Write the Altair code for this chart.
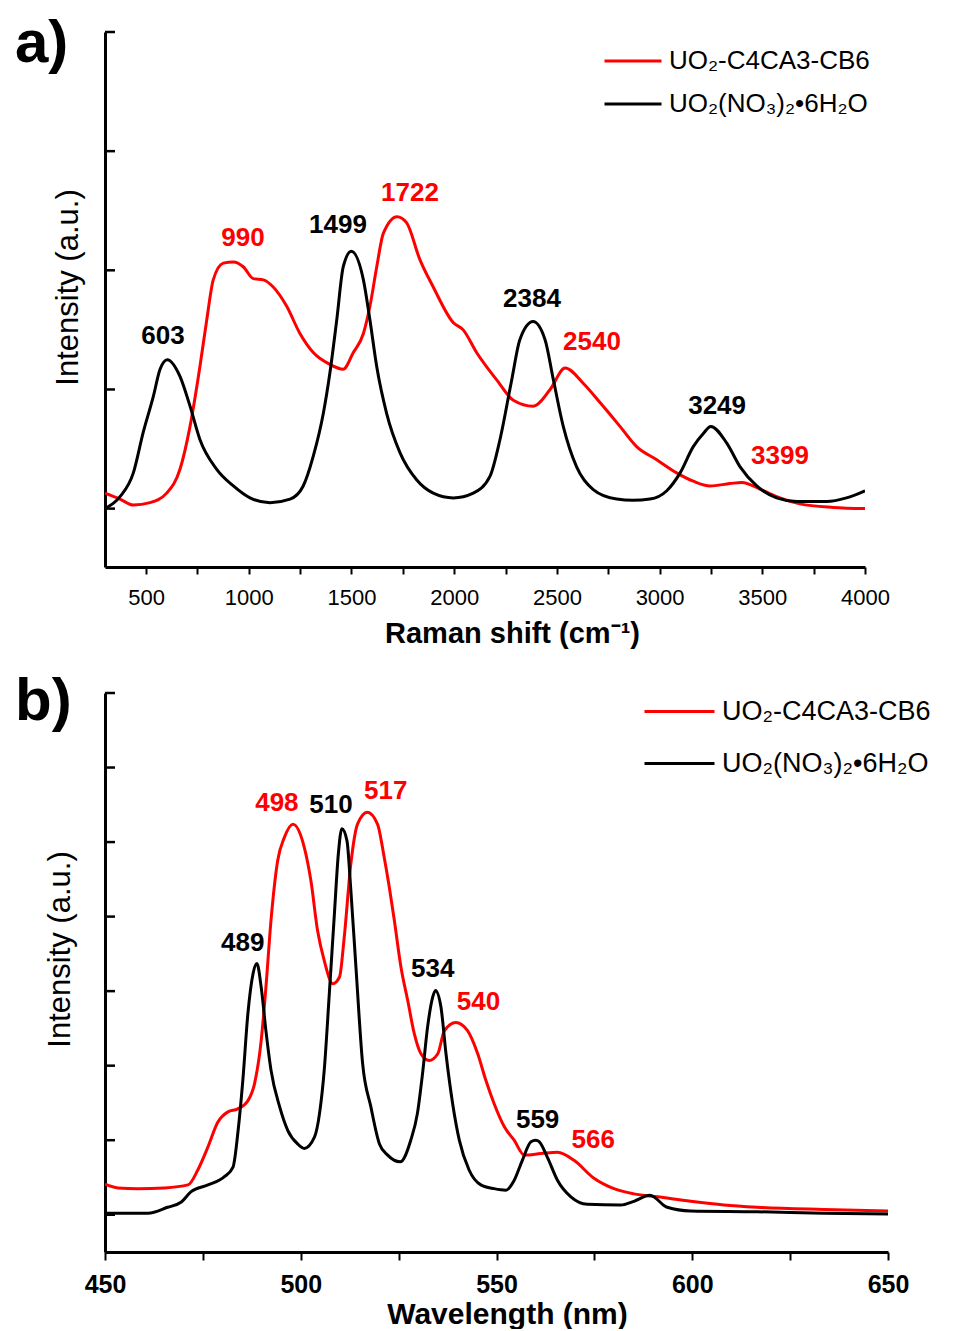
import altair as alt
import pandas as pd

FONT = "Liberation Sans"
S_RED = "UO₂-C4CA3-CB6"
S_BLK = "UO₂(NO₃)₂•6H₂O"

# ---------------- panel a: Raman ----------------
ra_black_x = [300, 373, 438, 486, 535, 568, 603, 665, 714, 762, 844, 925, 1006, 1103,
              1201, 1265, 1314, 1363, 1395, 1428, 1460, 1499, 1558, 1590, 1623, 1671, 1736, 1818,
              1898, 1996, 2093, 2174, 2223, 2280, 2320, 2384, 2442, 2483, 2531, 2596, 2677, 2791,
              2870, 2953, 3035, 3100, 3164, 3213, 3249, 3327, 3392, 3473, 3570, 3667, 3813, 3910, 4000]
ra_black_y = [0.00, 0.10, 0.30, 0.64, 0.94, 1.17, 1.25, 1.11, 0.86, 0.58, 0.33, 0.19, 0.09, 0.05,
              0.08, 0.19, 0.44, 0.80, 1.14, 1.58, 2.03, 2.16, 1.92, 1.58, 1.19, 0.80, 0.47, 0.24,
              0.13, 0.09, 0.13, 0.27, 0.58, 1.08, 1.42, 1.57, 1.42, 1.08, 0.69, 0.35, 0.16, 0.08,
              0.07, 0.08, 0.15, 0.30, 0.52, 0.63, 0.69, 0.55, 0.35, 0.19, 0.09, 0.06, 0.06, 0.09, 0.15]
ra_red_x = [300, 373, 438, 519, 600, 665, 714, 762, 795, 827, 876, 925, 973, 1022,
            1071, 1119, 1184, 1249, 1314, 1395, 1460, 1509, 1558, 1590, 1623, 1655, 1722, 1768,
            1833, 1898, 1996, 2044, 2109, 2207, 2288, 2385, 2467, 2540, 2629, 2710, 2807, 2888,
            2986, 3083, 3164, 3245, 3342, 3399, 3505, 3586, 3683, 3846, 4000]
ra_red_y = [0.13, 0.08, 0.03, 0.05, 0.13, 0.33, 0.69, 1.19, 1.58, 1.92, 2.06, 2.07, 2.03, 1.93,
            1.92, 1.86, 1.70, 1.47, 1.31, 1.21, 1.17, 1.31, 1.47, 1.70, 2.03, 2.31, 2.45, 2.40,
            2.09, 1.86, 1.56, 1.50, 1.31, 1.08, 0.91, 0.86, 1.00, 1.18, 1.05, 0.89, 0.69, 0.52,
            0.41, 0.30, 0.23, 0.19, 0.21, 0.22, 0.15, 0.09, 0.04, 0.01, 0.00]
ra_lab_text = ["603", "990", "1499", "1722", "2384", "2540", "3249", "3399"]
ra_lab_x = [582, 972, 1434, 1785, 2379, 2671, 3280, 3586]
ra_lab_y = [1.45, 2.27, 2.38, 2.65, 1.76, 1.40, 0.86, 0.44]
ra_lab_series = [S_BLK, S_RED, S_BLK, S_RED, S_BLK, S_RED, S_BLK, S_RED]
ra_xticks = list(range(500, 4001, 250))
ra_yticks = [0, 1, 2, 3, 4]

# ---------------- panel b: luminescence ----------------
pb_black_x = [450, 461, 466, 469.5, 472, 476.3, 480.5, 482.7, 484, 485.2, 486.5, 487.8, 488.8, 489.9,
              491.1, 492.4, 494.6, 496.7, 499.2, 500.9, 503.5, 504.8, 506.0, 507.3, 508.6, 509.6, 510.5, 511.8,
              512.8, 514.1, 515.8, 517.9, 520.1, 522.2, 525.4, 528.1, 529.8, 531.1, 532.4, 533.7, 534.4, 535.8,
              537.1, 538.8, 540.5, 543.0, 546.0, 549.4, 552.4, 554.5, 556.6, 558.8, 560.0, 560.9, 563.0, 565.6,
              569.0, 573.2, 581.7, 585.1, 589.2, 593.6, 599.6, 616.6, 633.6, 650]
pb_black_y = [0.02, 0.02, 0.10, 0.17, 0.31, 0.40, 0.51, 0.64, 1.13, 1.80, 2.70, 3.23, 3.37, 3.05,
              2.47, 1.94, 1.45, 1.13, 0.95, 0.89, 1.04, 1.36, 1.94, 2.97, 4.04, 4.84, 5.18, 5.02,
              4.35, 3.32, 2.03, 1.45, 0.95, 0.80, 0.71, 1.00, 1.36, 1.89, 2.52, 2.92, 3.01, 2.79,
              2.16, 1.49, 1.00, 0.60, 0.40, 0.35, 0.33, 0.46, 0.73, 0.98, 1.00, 0.98, 0.77, 0.46,
              0.24, 0.14, 0.13, 0.18, 0.26, 0.10, 0.05, 0.04, 0.02, 0.01]
pb_red_x = [450, 453.3, 458.4, 465.2, 471.2, 473.7, 476.3, 478.8, 481.4, 483.9, 486.5, 488.2, 489.9, 491.1,
            492.4, 494.1, 495.8, 498, 500.9, 502.6, 504.3, 506.0, 508.2, 509.9, 511.1, 512.8, 514.5, 517,
            519.6, 521.3, 522.6, 523.9, 525.6, 527.3, 529.0, 530.7, 532.8, 535.0, 536.7, 539.6, 542.6, 545.2,
            547.3, 549.4, 552.0, 554.5, 557.1, 561.3, 565.6, 569.8, 574.9, 580.0, 585.1, 591.1, 599.6, 608.1,
            616.6, 633.6, 650]
pb_red_y = [0.41, 0.36, 0.35, 0.36, 0.40, 0.60, 0.91, 1.24, 1.38, 1.42, 1.53, 1.76, 2.34, 3.05,
            3.95, 4.75, 5.06, 5.24, 4.93, 4.48, 3.81, 3.41, 3.10, 3.19, 3.72, 4.71, 5.24, 5.40,
            5.24, 4.80, 4.40, 3.95, 3.32, 2.88, 2.43, 2.16, 2.07, 2.16, 2.47, 2.58, 2.47, 2.16,
            1.80, 1.49, 1.18, 1.00, 0.80, 0.82, 0.84, 0.73, 0.49, 0.35, 0.28, 0.24, 0.18, 0.13,
            0.10, 0.07, 0.05]
pb_lab_text = ["489", "498", "510", "517", "534", "540", "559", "566"]
pb_lab_x = [485.2, 493.9, 507.7, 521.7, 533.7, 545.4, 560.5, 574.7]
pb_lab_y = [3.65, 5.53, 5.50, 5.68, 3.30, 2.86, 1.27, 1.00]
pb_lab_series = [S_BLK, S_RED, S_BLK, S_RED, S_BLK, S_RED, S_BLK, S_RED]
pb_xticks = list(range(450, 651, 25))
pb_yticks = [0, 1, 2, 3, 4, 5, 6, 7]


def lines_df(bx, by, rx, ry):
    return pd.concat([
        pd.DataFrame({"x": rx, "y": ry, "series": S_RED}),
        pd.DataFrame({"x": bx, "y": by, "series": S_BLK}),
    ], ignore_index=True)


def panel(df, lab_text, lab_x, lab_y, lab_series, xdom, ydom, xticks, yticks, major,
          w, h, xs):
    xscale = alt.Scale(domain=xdom, nice=False, zero=False)
    yscale = alt.Scale(domain=ydom, nice=False, zero=False)
    xaxis = alt.Axis(
        values=xticks, format="d",
        labelExpr=f"datum.value % {major} === 0 ? datum.label : ''",
        labelOverlap=False, labelFlush=False, grid=False,
        domainColor="black", domainWidth=3, tickColor="black", tickWidth=2,
        tickSize=xs["tick"], labelPadding=xs["lpad"],
        labelFont=FONT, labelFontSize=xs["lsize"], labelFontWeight=xs["lweight"],
        labelColor="black",
        title=xs["title"], titleFont=FONT, titleFontSize=xs["tsize"],
        titleFontWeight="bold", titleColor="black",
        titleX=xs["tx"], titleY=xs["ty"], titleAlign="center", titleBaseline="middle",
    )
    yaxis = alt.Axis(
        labels=False, ticks=False, grid=False, domainColor="black", domainWidth=3,
        title="Intensity (a.u.)", titleFont=FONT, titleFontSize=31,
        titleFontWeight="normal", titleColor="black",
        titleX=xs["ytx"], titleY=xs["yty"], titleAlign="center", titleBaseline="middle",
    )
    legend = alt.Legend(
        orient="none", legendX=xs["legx"], legendY=xs["legy"], title=None,
        symbolType="stroke", symbolSize=xs["symsize"], symbolStrokeWidth=3,
        labelFont=FONT, labelFontSize=xs["legsize"], labelColor="black",
        rowPadding=xs["rowpad"], labelLimit=400, padding=0, labelOffset=6,
    )
    lines = alt.Chart(df).mark_line(strokeWidth=3, interpolate="monotone", clip=True).encode(
        x=alt.X("x:Q", scale=xscale, axis=xaxis),
        y=alt.Y("y:Q", scale=yscale, axis=yaxis),
        color=alt.Color("series:N",
                        scale=alt.Scale(domain=[S_RED, S_BLK], range=["#ff0000", "#000000"]),
                        legend=legend),
    )
    labs = pd.DataFrame({"x": lab_x, "y": lab_y, "t": lab_text, "series": lab_series})
    lab_layers = []
    for s, c in [(S_RED, "#ff0000"), (S_BLK, "#000000")]:
        lab_layers.append(
            alt.Chart(labs[labs["series"] == s]).mark_text(
                font=FONT, fontSize=26, fontWeight="bold", color=c,
                align="center", baseline="middle",
            ).encode(x=alt.X("x:Q", scale=xscale), y=alt.Y("y:Q", scale=yscale), text="t:N")
        )
    ticks = alt.Chart(pd.DataFrame({"y": yticks})).mark_rule(
        color="black", strokeWidth=2.5
    ).encode(y=alt.Y("y:Q", scale=yscale), x=alt.value(0), x2=alt.value(10))
    plabel = alt.Chart(pd.DataFrame({"t": [xs["plabel"]]})).mark_text(
        font=FONT, fontSize=60, fontWeight="bold", color="black",
        align="left", baseline="alphabetic",
    ).encode(text="t:N", x=alt.value(-90), y=alt.value(xs["ply"]))
    return alt.layer(lines, *lab_layers, ticks, plabel).properties(width=w, height=h)


pa = panel(
    lines_df(ra_black_x, ra_black_y, ra_red_x, ra_red_y),
    ra_lab_text, ra_lab_x, ra_lab_y, ra_lab_series,
    [300, 4000], [-0.49, 4], ra_xticks, ra_yticks, 500, 760, 535,
    dict(tick=7, lpad=13, lsize=22, lweight="normal", title="Raman shift (cm⁻¹)", tsize=29,
         tx=407, ty=66, ytx=-37, yty=255, legx=498, legy=-1, symsize=3249, legsize=26,
         rowpad=0, plabel="a)", ply=30),
)
pb = panel(
    lines_df(pb_black_x, pb_black_y, pb_red_x, pb_red_y),
    pb_lab_text, pb_lab_x, pb_lab_y, pb_lab_series,
    [450, 650], [-0.5, 7], pb_xticks, pb_yticks, 50, 783, 559,
    dict(tick=8, lpad=12, lsize=25, lweight="bold", title="Wavelength (nm)", tsize=30,
         tx=402, ty=62, ytx=-45, yty=256, legx=538, legy=-18, symsize=4900, legsize=27,
         rowpad=2, plabel="b)", ply=27),
)

chart = alt.vconcat(pa, pb, spacing=24).resolve_scale(
    x="independent", y="independent", color="independent"
).resolve_legend(color="independent").properties(
    padding={"left": 7, "top": 6, "right": 0, "bottom": 0}
).configure_view(stroke=None)

chart.save("out.html", embed_options={"renderer": "svg", "actions": False})
